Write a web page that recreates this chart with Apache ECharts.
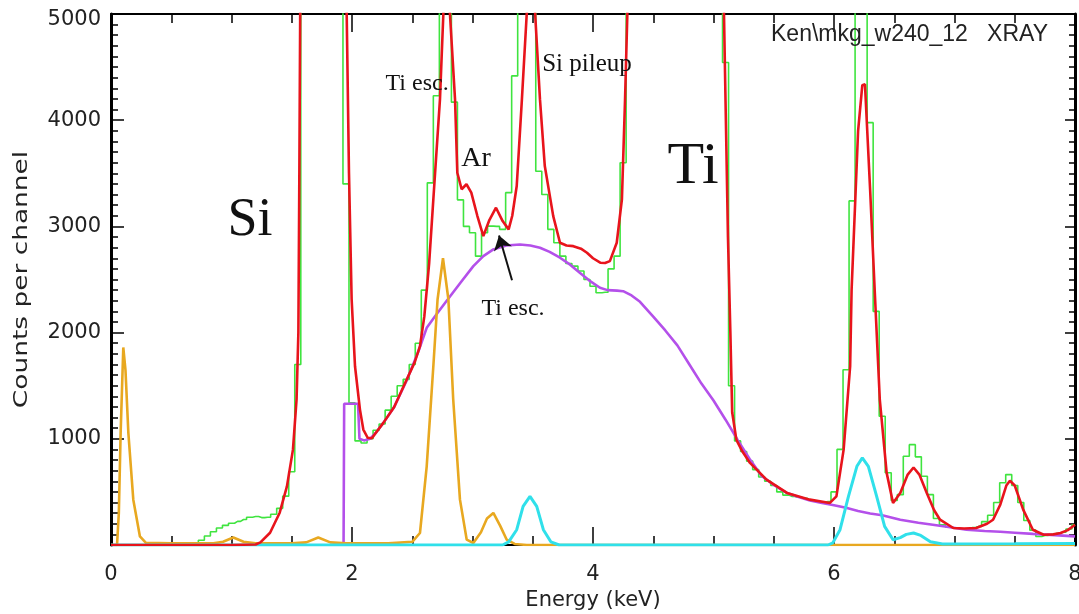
<!DOCTYPE html>
<html><head><meta charset="utf-8">
<script src="https://cdn.jsdelivr.net/npm/echarts@6/dist/echarts.min.js"></script>
<style>html,body{margin:0;padding:0;background:#fff}#c{width:1079px;height:614px}</style>
</head><body><div id="c"></div>
<script>
// ---- axis ticks ----
const xTickLabels = [0, 2, 4, 6, 8];
const yTickLabels = [1000, 2000, 3000, 4000, 5000];

// ---- measured spectrum (green histogram), channel width 0.05 keV starting at 0 ----
const greenChannelWidth = 0.05;
const greenCounts = [
  0,0,0,0,0,0,0,0,0,0,
  0,0,0,0,10,45,85,125,160,185,
  205,222,240,262,268,258,262,290,345,460,
  690,1700,9000,30000,50000,60000,50000,30000,15000,3400,
  1340,980,960,1000,1080,1140,1270,1400,1500,1560,
  1700,1900,2400,3410,4230,8000,6500,4170,3250,3000,
  2940,2720,2940,3003,3000,2972,3318,4417,9000,20000,
  20000,3520,3300,2972,2846,2720,2650,2626,2580,2500,
  2437,2375,2380,2600,2720,3600,9000,20000,40000,60000,
  70000,60000,40000,30000,30000,25000,20000,25000,30000,20000,
  10000,8000,4543,1500,980,880,790,710,640,600,
  560,500,470,458,450,440,425,415,400,410,
  500,900,1650,3240,9000,9000,3977,2200,1213,680,
  420,474,835,945,830,647,474,250,190,170,
  160,150,150,165,175,220,280,400,586,663,
  560,400,230,140,80,90,100,110,120,150,
  190
];

// ---- total fit (red) ----
const redE = [0,0.5,1.0,1.2,1.24,1.32,1.40,1.46,1.51,1.54,1.555,1.563,1.57,1.6,1.76,1.93,1.956,1.975,1.997,2.025,2.066,2.094,2.13,2.165,2.2,2.26,2.35,2.454,2.52,2.564,2.6,2.64,2.675,2.73,2.758,2.785,2.813,2.855,2.874,2.91,2.95,2.99,3.04,3.09,3.14,3.195,3.25,3.3,3.33,3.367,3.41,3.45,3.485,3.52,3.56,3.6,3.67,3.726,3.78,3.837,3.9,3.95,4.0,4.06,4.1,4.14,4.197,4.24,4.266,4.285,4.32,4.55,4.95,5.05,5.087,5.12,5.14,5.155,5.19,5.24,5.303,5.44,5.61,5.8,5.966,6.02,6.08,6.134,6.146,6.2,6.235,6.257,6.3,6.34,6.38,6.437,6.49,6.55,6.61,6.66,6.71,6.77,6.83,6.88,6.99,7.08,7.18,7.27,7.32,7.38,7.43,7.46,7.5,7.57,7.65,7.74,7.82,7.88,7.94,8.0];
const redV = [0,0,0,5,25,115,304,552,898,1370,2000,3500,5000,9000,40000,9000,5000,3500,2314,1683,1275,1087,1010,1005,1060,1150,1300,1558,1720,1872,2150,2650,3255,4196,5000,5500,5000,4196,3505,3350,3397,3318,3100,2909,3060,3176,3050,2972,3100,3380,4196,5000,5600,5000,4196,3568,3097,2846,2820,2814,2790,2752,2700,2658,2655,2673,2846,3255,4196,5000,8000,60000,15000,8000,5000,2900,2000,1250,990,880,773,615,490,427,396,458,898,1683,2400,3900,4330,4338,3340,2343,1370,679,396,490,660,730,660,490,330,238,160,155,160,200,238,380,560,605,560,333,144,97,100,113,140,190];

// ---- continuum (purple) ----
const purpleE = [1.93,1.935,2.05,2.062,2.1,2.15,2.2,2.26,2.35,2.45,2.55,2.62,2.7,2.786,2.9,3.007,3.09,3.173,3.28,3.394,3.48,3.56,3.64,3.726,3.81,3.89,3.97,4.058,4.12,4.2,4.25,4.32,4.39,4.5,4.6,4.7,4.8,4.9,5.0,5.1,5.2,5.3,5.4,5.5,5.6,5.7,5.8,5.9,6.0,6.1,6.2,6.3,6.4,6.55,6.7,6.82,6.95,7.1,7.25,7.38,7.5,7.65,7.8,8.0];
const purpleV = [0,1330,1330,1000,985,1000,1060,1150,1300,1540,1820,2045,2170,2300,2470,2626,2720,2783,2820,2830,2820,2799,2760,2705,2640,2564,2490,2422,2400,2395,2390,2350,2290,2150,2020,1880,1700,1520,1360,1180,990,810,650,565,495,455,420,395,375,350,320,297,280,238,210,191,170,144,132,125,116,105,95,81];

// ---- escape component (orange) ----
const orangeE = [0,0.05,0.065,0.08,0.102,0.12,0.144,0.185,0.24,0.29,0.5,0.85,0.93,1.015,1.1,1.2,1.5,1.62,1.72,1.82,1.95,2.3,2.5,2.564,2.62,2.675,2.71,2.755,2.8,2.84,2.896,2.952,3.007,3.07,3.12,3.173,3.23,3.284,3.35,3.45,8.0];
const orangeV = [0,0,300,1056,1860,1650,1056,427,81,20,15,15,30,70,30,15,15,25,70,25,15,15,30,113,741,1683,2312,2700,2312,1370,427,50,19,120,250,302,180,50,10,0,0];

// ---- other component (cyan) ----
const cyanE = [0,3.25,3.3,3.367,3.42,3.477,3.533,3.588,3.65,3.72,5.95,5.99,6.05,6.12,6.19,6.235,6.285,6.354,6.42,6.49,6.55,6.6,6.66,6.72,6.8,6.9,7.5,8.0];
const cyanV = [0,0,30,144,364,458,364,144,30,0,0,20,144,458,741,820,741,458,175,50,70,100,113,90,30,10,12,15];

// ---- annotations (data coordinates) ----
const noteText = ['Si', 'Ti', 'Ti esc.', 'Ar', 'Si pileup', 'Ti esc.'];
const noteE    = [1.153, 4.83, 2.54, 3.03, 3.95, 3.336];
const noteY    = [3057, 3556, 4347, 3640, 4528, 2227];
const noteSize = [54, 60, 24, 28, 25, 24];
const arrowFrom = [3.328, 2493];
const arrowTo   = [3.22, 2915];
const tagText = 'Ken\\mkg_w240_12   XRAY';
const tagPos  = [7.776, 4810];
const yName = 'Counts per channel';
const xName = 'Energy (keV)';

const pairs = (xs, ys) => xs.map((x, i) => [x, ys[i]]);
const greenData = greenCounts.map((v, i) => [+(i * greenChannelWidth).toFixed(3), v]);

const chart = echarts.init(document.getElementById('c'), null, {renderer: 'canvas'});
const FONT = '"DejaVu Sans", sans-serif';
const baseX = {
  type: 'value', min: 0, max: 8, interval: 2,
  splitLine: {show: false},
  axisLine: {show: true, onZero: false, lineStyle: {color: '#000', width: 2}},
  axisTick: {show: true, inside: true, length: 18, lineStyle: {color: '#000', width: 1.5}},
  minorTick: {show: true, splitNumber: 4, length: 9, lineStyle: {color: '#000', width: 1.5}}
};
const baseY = {
  type: 'value', min: 0, max: 5000, interval: 1000,
  splitLine: {show: false},
  axisLine: {show: true, onZero: false, lineStyle: {color: '#000', width: 3}},
  axisTick: {show: true, inside: true, length: 13, lineStyle: {color: '#000', width: 1.5}},
  minorTick: {show: true, splitNumber: 10, length: 7, lineStyle: {color: '#000', width: 1.5}}
};

chart.setOption({
  animation: false,
  backgroundColor: '#fff',
  grid: {left: 111, right: 4, top: 14, bottom: 69, containLabel: false, outerBoundsMode: 'none'},
  xAxis: [
    Object.assign({}, baseX, {
      position: 'bottom',
      name: xName, nameLocation: 'middle', nameGap: 39,
      nameTextStyle: {fontFamily: FONT, fontSize: 21, color: '#222'},
      axisLabel: {show: true, margin: 19, fontFamily: FONT, fontSize: 21, color: '#222',
        formatter: v => xTickLabels.includes(v) ? String(v) : ''}
    }),
    Object.assign({}, baseX, {position: 'top', axisLabel: {show: false}})
  ],
  yAxis: [
    Object.assign({}, baseY, {
      position: 'left',
      axisLabel: {show: true, margin: 10, showMinLabel: false, fontFamily: FONT, fontSize: 21, color: '#222',
        formatter: v => yTickLabels.includes(v) ? (v === 5000 ? '{top|' + v + '}' : String(v)) : '',
        rich: {top: {fontFamily: FONT, fontSize: 21, color: '#222', padding: [12, 0, 0, 0]}}}
    }),
    Object.assign({}, baseY, {position: 'right', axisLabel: {show: false},
      axisTick: {show: true, inside: true, length: 10, lineStyle: {color: '#000', width: 1.5}},
      minorTick: {show: true, splitNumber: 10, length: 6, lineStyle: {color: '#000', width: 1.5}}})
  ],
  series: [
    {name: 'data', type: 'line', step: 'middle', data: greenData, showSymbol: false,
      lineStyle: {color: '#3fe43f', width: 1.6}, itemStyle: {color: '#3fe43f'}, clip: true, z: 2},
    {name: 'continuum', type: 'line', data: pairs(purpleE, purpleV), showSymbol: false,
      lineStyle: {color: '#b450ea', width: 2.6}, itemStyle: {color: '#b450ea'}, clip: true, z: 3},
    {name: 'escape', type: 'line', data: pairs(orangeE, orangeV), showSymbol: false,
      lineStyle: {color: '#e8a820', width: 2.6}, itemStyle: {color: '#e8a820'}, clip: true, z: 4},
    {name: 'other', type: 'line', data: pairs(cyanE, cyanV), showSymbol: false,
      lineStyle: {color: '#30e0ea', width: 3}, itemStyle: {color: '#30e0ea'}, clip: true, z: 5,
      markLine: {silent: true, symbol: ['none', 'arrow'], symbolSize: 14, label: {show: false},
        lineStyle: {color: '#111', width: 2, type: 'solid'},
        data: [[{coord: arrowFrom}, {coord: arrowTo}]]}},
    {name: 'fit', type: 'line', data: pairs(redE, redV), showSymbol: false,
      lineStyle: {color: '#e8141c', width: 2.6}, itemStyle: {color: '#e8141c'}, clip: true, z: 6}
  ]
});

const toPx = (e, y) => chart.convertToPixel({xAxisIndex: 0, yAxisIndex: 0}, [e, y]);
const graphics = noteText.map((t, i) => {
  const p = toPx(noteE[i], noteY[i]);
  return {type: 'text', x: p[0], y: p[1], z: 100,
    style: {text: t, font: noteSize[i] + 'px "Liberation Serif", serif', fill: '#111',
      align: 'center', verticalAlign: 'middle'}};
});
const tp = toPx(tagPos[0], tagPos[1]);
graphics.push({type: 'text', x: tp[0], y: tp[1], z: 100,
  style: {text: tagText, font: '23px "Liberation Sans", sans-serif', fill: '#222', align: 'right', verticalAlign: 'middle'}});
// y-axis title, centred on the axis, stretched along its length like the original
const yMid = (toPx(0, 0)[1] + toPx(0, 5000)[1]) / 2;
graphics.push({type: 'text', x: 22, y: yMid, rotation: Math.PI / 2, scaleX: 1.32, z: 100,
  style: {text: yName, font: '20px ' + FONT, fill: '#222', align: 'center', verticalAlign: 'middle'}});
chart.setOption({graphic: graphics});
</script>
</body></html>
